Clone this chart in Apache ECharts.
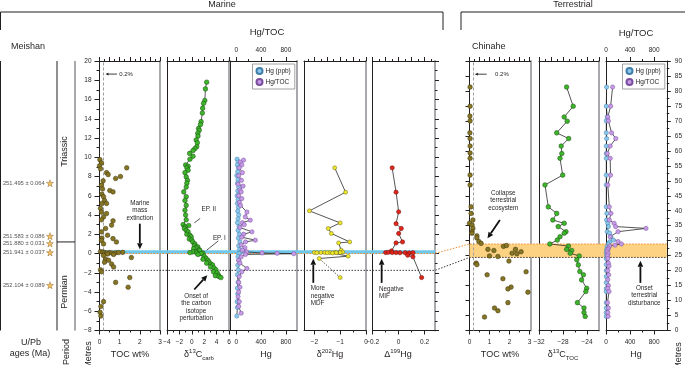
<!DOCTYPE html>
<html>
<head>
<meta charset="utf-8">
<script src="https://cdn.jsdelivr.net/npm/echarts@6/dist/echarts.min.js"></script>
<style>
html, body { margin: 0; padding: 0; background: #fff; }
#c { width: 685px; height: 365px; }
</style>
</head>
<body>
<div id="c"></div>
<script>
// ---- Meishan (marine) : [value, metres] ----
var meishanToc = [
    [0.02, 9.75], [0.1, 9.4], [0.0, 9.1], [0.05, 8.8], [1.35, 8.9], [0.35, 8.4], [0.43, 8.2], [1.04, 8.0],
    [0.8, 7.8], [0.18, 7.55], [0.1, 7.1], [0.15, 6.7], [0.51, 6.55], [0.67, 6.4], [0.12, 6.15], [0.2, 5.9],
    [0.25, 5.5], [0.12, 5.2], [0.35, 5.2], [0.05, 4.7], [0.1, 4.3], [0.35, 4.15], [0.2, 3.8], [0.1, 3.5],
    [0.67, 3.4], [0.6, 2.95], [0.3, 2.6], [0.1, 2.25], [0.4, 1.9], [0.12, 1.6], [0.67, 1.55], [0.1, 1.35],
    [0.84, 1.2], [0.2, 1.0], [0.05, 0.2], [0.15, 0.15], [0.25, 0.1], [0.35, 0.05], [0.5, 0.1], [0.62, 0.05],
    [0.8, 0.08], [0.95, 0.1], [1.15, 0.12], [0.4, -0.05], [0.7, -0.1], [0.2, -0.2], [1.58, -0.42], [0.3, -0.6],
    [0.45, -0.7], [0.25, -0.9], [0.6, -1.1], [0.7, -1.4], [0.05, -1.7], [0.1, -1.9], [1.5, -2.5], [0.8, -3.0],
    [1.42, -3.5], [0.2, -5.0], [0.07, -5.5], [0.03, -6.1], [0.07, -6.5]
];
var meishanC13 = [
    [2.4, 17.8], [2.2, 17.1], [2.1, 15.9], [1.9, 15.6], [1.75, 15.1], [1.7, 14.6], [1.5, 13.7], [1.4, 13.4],
    [1.1, 13.0], [1.2, 12.8], [0.97, 12.5], [1.0, 12.2], [0.7, 11.8], [0.9, 11.5], [0.8, 11.1], [0.5, 10.9],
    [0.2, 10.7], [-0.35, 10.4], [0.2, 10.1], [-0.3, 9.8], [-1.0, 9.2], [-0.6, 9.07], [-0.8, 8.9], [-0.6, 8.66],
    [-1.1, 8.4], [-0.9, 7.96], [-0.7, 7.6], [-0.8, 7.3], [-0.9, 6.9], [-1.3, 6.4], [-0.9, 5.9], [-1.1, 5.5],
    [-0.9, 5.0], [-1.1, 4.5], [-1.0, 4.0], [-0.9, 3.5], [-1.4, 3.0], [-0.5, 2.9], [-1.1, 2.76], [-1.2, 2.6],
    [-0.9, 2.4], [-0.6, 2.25], [-0.8, 2.0], [-0.3, 1.9], [-0.1, 1.73], [-0.4, 1.5], [0.0, 1.4], [0.15, 1.2],
    [0.5, 1.0], [0.4, 0.8], [0.95, 0.69], [0.7, 0.6], [0.3, 0.5], [1.2, 0.4], [1.3, 0.3], [0.6, 0.2],
    [0.15, 0.17], [-0.3, 0.1], [0.8, 0.05], [1.8, 0.05], [1.5, 0.0], [1.0, -0.1], [2.0, -0.3], [2.3, -0.5],
    [1.8, -0.6], [2.6, -0.7], [2.8, -0.9], [2.4, -1.0], [3.1, -1.1], [3.35, -1.2], [3.0, -1.4], [3.6, -1.5],
    [3.9, -1.7], [3.5, -1.9], [4.1, -2.0], [4.3, -2.25], [3.8, -2.3], [4.4, -2.4], [4.7, -2.5]
];
var meishanHg = [
    [15, 9.8], [30, 9.5], [20, 9.2], [35, 8.9], [25, 8.5], [10, 8.1], [30, 7.7], [20, 7.3], [40, 6.9],
    [25, 6.5], [15, 6.0], [30, 5.6], [20, 5.2], [35, 4.8], [25, 4.4], [40, 4.0], [30, 3.6], [20, 3.2],
    [45, 2.8], [30, 2.4], [50, 2.0], [35, 1.6], [60, 1.2], [40, 0.8], [55, 0.4], [70, 0.15], [45, 0.0],
    [30, -0.3], [40, -0.7], [25, -1.2], [35, -1.7], [20, -2.2], [30, -3.0], [20, -3.6], [25, -4.2],
    [15, -5.0], [20, -5.6], [10, -6.5]
];
var meishanHgToc = [
    [118, 9.7], [65, 9.5], [90, 9.2], [50, 8.9], [100, 8.4], [40, 8.1], [85, 7.6], [30, 7.2], [110, 7.0],
    [60, 6.6], [80, 6.4], [40, 6.0], [90, 5.7], [50, 5.3], [70, 5.0], [173, 4.3], [146, 3.8], [227, 3.46],
    [100, 3.2], [130, 3.0], [60, 2.7], [254, 2.25], [120, 2.0], [90, 1.7], [308, 1.38], [150, 1.2], [80, 0.9],
    [140, 0.6], [100, 0.35], [170, 0.17], [416, 0.05], [660, 0.02], [928, -0.02], [150, -0.1], [80, -0.35],
    [40, -0.7], [60, -1.0], [173, -1.56], [90, -1.9], [50, -2.4], [40, -3.0], [60, -3.5], [40, -4.0],
    [30, -4.5], [50, -5.0], [40, -5.5], [80, -6.2]
];
var meishanD202 = [
    [-1.21, 8.9], [-0.79, 6.37], [-2.19, 4.43], [-1.0, 3.18], [-1.46, 2.6], [-1.34, 2.08], [-0.63, 1.2],
    [-1.06, 1.1], [-0.96, 0.35], [-0.9, 0.15], [-1.2, 0.12], [-1.0, 0.1], [-1.4, 0.1], [-1.6, 0.1],
    [-1.15, 0.08], [-1.5, 0.08], [-1.75, 0.1], [-2.0, 0.1], [-1.9, 0.08], [-1.3, 0.05], [-0.69, -0.28],
    [-1.81, -0.52]
];
var meishanD202Low = [[-1.81, -0.52], [-1.0, -2.5]];
var meishanD199 = [
    [-0.05, 8.9], [-0.02, 6.37], [0.0, 4.33], [-0.02, 3.1], [0.02, 2.6], [0.0, 2.08], [0.03, 1.2],
    [-0.02, 1.1], [-0.055, 0.27], [-0.1, 0.1], [-0.08, 0.12], [-0.05, 0.1], [-0.02, 0.1], [0.01, 0.08],
    [0.05, 0.08], [0.08, 0.06], [0.11, 0.08], [0.07, -0.18], [0.11, -0.35], [0.177, -2.5]
];

// ---- Chinahe (terrestrial) : [value, metres] ----
var chinaheToc = [
    [0.03, 81.3], [0.03, 74.9], [0.02, 71.6], [0.03, 70], [0.02, 66], [0.03, 64.1], [0.03, 61.6], [0.03, 59.3],
    [0.03, 57.5], [0.03, 51.9], [0.03, 48.6], [0.08, 41.3], [0.08, 39.1], [0.17, 36.9], [0.0, 35.8], [0.13, 35.2],
    [0.17, 34.1], [0.13, 33.0], [0.12, 32.5], [0.37, 31.6], [0.37, 30.9], [0.47, 29.7], [0.58, 29.1], [1.7, 28.1],
    [1.85, 28.4], [0.92, 27.1], [1.22, 26.7], [1.0, 24.9], [1.42, 24.7], [2.13, 25.8], [2.3, 27.1], [2.37, 25.6],
    [2.58, 26.3], [1.97, 23.2], [0.33, 22.5], [0.37, 22.0], [2.83, 19.6], [0.88, 18.6], [1.67, 17.3],
    [2.92, 12.8], [2.08, 14.5], [1.92, 13.9], [1.92, 9.3], [1.25, 7.5], [1.42, 6.6], [0.75, 4.5]
];
var chinaheC13 = [
    [-27.4, 81.3], [-26.3, 74.9], [-27.8, 71.3], [-27.3, 69.9], [-29.05, 66], [-27.05, 64.1], [-28.3, 61.6],
    [-28.2, 59.1], [-28.5, 57.5], [-28.05, 51.9], [-31, 48.6], [-30.45, 41.3], [-29.05, 39.1], [-29.7, 36.9],
    [-27.8, 35.8], [-28.8, 34.7], [-27.5, 33], [-27.8, 32.5], [-28.5, 31.3], [-28.95, 30.2], [-30.2, 28.9],
    [-27.1, 28.2], [-27.4, 27.1], [-26.55, 26.7], [-26.8, 25.8], [-25.3, 24.9], [-25.7, 23.6], [-25.45, 21.9],
    [-25.2, 19.7], [-24.6, 18.6], [-24.9, 16.9], [-24.05, 14.1], [-24.2, 13], [-25.6, 9.3], [-24.5, 7.5],
    [-24.5, 6], [-24.3, 4.7]
];
var chinaheHg = [
    [10, 81.3], [5, 74.9], [20, 71.3], [5, 70], [5, 66], [10, 64.1], [5, 61.6], [5, 59.1], [5, 57.5],
    [5, 51.9], [5, 48.6], [5, 41.3], [15, 39.1], [10, 36.9], [30, 35.8], [40, 34.7], [20, 33], [60, 32.5],
    [80, 31.3], [120, 30.2], [60, 29.6], [40, 28.9], [20, 28], [10, 27], [5, 26], [10, 25], [5, 24],
    [5, 22], [5, 20], [5, 18], [5, 16], [5, 14], [5, 13], [5, 9.3], [5, 7.5], [5, 6], [5, 4.7]
];
var chinaheHgToc = [
    [110, 81.3], [77, 74.9], [30, 71.3], [40, 70], [93, 66], [163, 64.1], [70, 61.6], [20, 59.1], [70, 57.5],
    [75, 51.9], [30, 48.6], [55, 41.3], [82, 39.1], [55, 36.9], [135, 35.8], [160, 34.7], [665, 34.1],
    [200, 33], [70, 31.3], [200, 29.7], [256, 28.9], [150, 28.5], [60, 28.2], [40, 27.5], [30, 27], [20, 26.3],
    [35, 25.6], [25, 24.9], [30, 24], [40, 22.5], [50, 21.5], [30, 20], [45, 18.6], [30, 17], [40, 15],
    [30, 14], [50, 13], [25, 9.3], [40, 7.5], [30, 6], [35, 4.7]
];

// ---- U/Pb ages (Meishan metres) ----
var ageLabels = ['251.495 \u00b1 0.064', '251.583 \u00b1 0.086', '251.880 \u00b1 0.031', '251.941 \u00b1 0.037', '252.104 \u00b1 0.089'];
var ageDepths = [7.3, 1.8, 1.04, 0.1, -3.3];

// ---- panel layout ----
var FONT = '"Liberation Sans", Arial, sans-serif';
var INK = '#231f20';
var TOP = 61, HEIGHT = 269.5;

var panels = [
    { l: 99.5, r: 160, min: 0, max: 3, labels: [0, 1, 2, 3], bMinor: [0.5, 1.5, 2.5],
      tMajor: [0, 0.5, 1, 1.5, 2, 2.5, 3], tMinor: [0.25, 0.75, 1.25, 1.75, 2.25, 2.75] },
    { l: 167, r: 229, min: -4, max: 6, labels: [-4, -2, 0, 2, 4, 6], bMinor: [-3, -1, 1, 3, 5],
      tMajor: [-4, -2, 0, 2, 4, 6], tMinor: [-3, -1, 1, 3, 5] },
    { l: 230, r: 297, min: -100, max: 980, labels: [0, 400, 800], bMinor: [200, 600],
      tMajor: [0, 400, 800], tMinor: [200, 600], top: true },
    { l: 304, r: 366, min: -2.4, max: 0, labels: [-2, -1, 0], bMinor: [-1.5, -0.5],
      tMajor: [-2, -1.5, -1, -0.5, 0], tMinor: [-2.25, -1.75, -1.25, -0.75, -0.25] },
    { l: 372.7, r: 435, min: -0.2, max: 0.28, labels: [-0.2, 0, 0.2], bMinor: [-0.1, 0.1],
      tMajor: [-0.2, -0.1, 0, 0.1, 0.2], tMinor: [-0.15, -0.05, 0.05, 0.15, 0.25] },
    { l: 469.5, r: 530.5, min: 0, max: 3.05, labels: [0, 1, 2, 3], bMinor: [0.5, 1.5, 2.5],
      tMajor: [0, 0.5, 1, 1.5, 2, 2.5, 3], tMinor: [0.25, 0.75, 1.25, 1.75, 2.25, 2.75] },
    { l: 539, r: 599, min: -32, max: -22, labels: [-32, -28, -24], bMinor: [-30, -26],
      tMajor: [-32, -30, -28, -26, -24, -22], tMinor: [-31, -29, -27, -25, -23] },
    { l: 606, r: 668, min: 0, max: 1010, labels: [0, 400, 800], bMinor: [200, 600],
      tMajor: [0, 400, 800], tMinor: [200, 600], top: true }
];

function fmt(v) {
    return v < 0 ? '\u2212' + String(-v) : String(v);
}

var grids = [], xAxes = [], yAxes = [];
var lineBlack = { onZero: false, lineStyle: { color: INK, width: 1 } };

panels.forEach(function (p, i) {
    var marine = i < 5;
    grids.push({ left: p.l, top: TOP, width: p.r - p.l, height: HEIGHT, containLabel: false });
    var base = { type: 'value', gridIndex: i, min: p.min, max: p.max, splitLine: { show: false }, silent: true };

    xAxes.push(Object.assign({}, base, {
        position: 'bottom', axisLine: lineBlack,
        axisTick: { length: 4, customValues: p.labels, lineStyle: { color: INK } },
        axisLabel: { customValues: p.labels, fontSize: 6.5, fontFamily: FONT, color: INK, margin: 8, formatter: fmt }
    }));
    xAxes.push(Object.assign({}, base, {
        position: 'bottom', axisLine: { show: false, onZero: false },
        axisTick: { length: 2, customValues: p.bMinor, lineStyle: { color: INK } },
        axisLabel: { show: false }
    }));
    xAxes.push(Object.assign({}, base, {
        position: 'top', axisLine: lineBlack,
        axisTick: { length: 4, customValues: p.tMajor, lineStyle: { color: INK } },
        axisLabel: p.top
            ? { customValues: p.labels, fontSize: 6.5, fontFamily: FONT, color: INK, margin: 7, formatter: fmt }
            : { show: false }
    }));
    xAxes.push(Object.assign({}, base, {
        position: 'top', axisLine: { show: false, onZero: false },
        axisTick: { length: 2, customValues: p.tMinor, lineStyle: { color: INK } },
        axisLabel: { show: false }
    }));

    var ybase = {
        type: 'value', gridIndex: i, min: marine ? -8 : 0, max: marine ? 20 : 90,
        splitLine: { show: false }, silent: true
    };
    var left = Object.assign({}, ybase, {
        position: 'left', axisLine: lineBlack, axisTick: { show: false }, axisLabel: { show: false }
    });
    var right = Object.assign({}, ybase, {
        position: 'right', axisLine: { onZero: false, lineStyle: { color: '#a7a9ac', width: 2 } },
        axisTick: { show: false }, axisLabel: { show: false }
    });
    if (i === 0) {
        left.interval = 2;
        left.axisTick = { show: true, length: 5, lineStyle: { color: INK } };
        left.minorTick = { show: true, splitNumber: 2, length: 3, lineStyle: { color: INK } };
        left.axisLabel = { show: true, fontSize: 6.5, fontFamily: FONT, color: INK, margin: 8, formatter: fmt };
    }
    if (i === 4) {
        right.interval = 2;
        right.axisTick = { show: true, length: 4, lineStyle: { color: INK } };
        right.minorTick = { show: true, splitNumber: 2, length: 2.5, lineStyle: { color: INK } };
    }
    if (i === 5) {
        left.interval = 5;
        left.axisTick = { show: true, length: 4, lineStyle: { color: INK } };
    }
    if (i === 7) {
        right.interval = 5;
        right.axisLine = { onZero: false, lineStyle: { color: INK, width: 1 } };
        right.axisTick = { show: true, length: 4, lineStyle: { color: INK } };
        right.minorTick = { show: true, splitNumber: 2, length: 2.5, lineStyle: { color: INK } };
        right.axisLabel = { show: true, fontSize: 6.5, fontFamily: FONT, color: INK, margin: 8 };
    }
    yAxes.push(left, right);
});

// hidden grid for the U/Pb age column, sharing the Meishan depth scale
grids.push({ left: 0, top: TOP, width: 57, height: HEIGHT });
xAxes.push({ type: 'value', gridIndex: 8, min: 0, max: 1, show: false });
yAxes.push({ type: 'value', gridIndex: 8, min: -8, max: 20, show: false });

function dots(name, data, p, fill, edge, size, joined) {
    return {
        type: joined ? 'line' : 'scatter',
        name: name,
        data: data,
        xAxisIndex: p * 4,
        yAxisIndex: p * 2,
        symbol: 'circle',
        symbolSize: size,
        showSymbol: true,
        showAllSymbol: true,
        itemStyle: { color: fill, borderColor: edge, borderWidth: 0.5, opacity: 1 },
        lineStyle: { color: '#2b2b2b', width: 0.8 },
        emphasis: { disabled: true },
        z: 5,
        animation: false
    };
}

var olive = ['#857524', '#3d350c'];
var green = ['#3db52a', '#17470f'];
var blue = ['#8cc8ec', '#3f7ea8'];
var purple = ['#c59ae6', '#7a4f9e'];
var yellow = ['#efe52a', '#6f6810'];
var red = ['#e0261b', '#6d0f0a'];

var tocMark = {
    silent: true, symbol: ['none', 'none'], label: { show: false },
    lineStyle: { color: '#9d9fa2', type: [3, 2], width: 1 },
    data: [{ xAxis: 0.2 }]
};

var s = [];
var mToc = dots('TOC', meishanToc, 0, olive[0], olive[1], 4.6, false);
mToc.markLine = tocMark;
s.push(mToc);
s.push(dots('d13C', meishanC13, 1, green[0], green[1], 4.6, true));
s.push(dots('Hg (ppb)', meishanHg, 2, blue[0], blue[1], 4.3, true));
s.push(dots('Hg/TOC', meishanHgToc, 2, purple[0], purple[1], 4.3, true));
var low = dots('d202low', meishanD202Low, 3, yellow[0], yellow[1], 4, true);
low.lineStyle = { color: '#2b2b2b', width: 0.8, type: [1.5, 1.5] };
low.showSymbol = false;
low.symbol = 'none';
s.push(low);
s.push(dots('d202', meishanD202, 3, yellow[0], yellow[1], 4, true));
s.push(dots('d202pt', meishanD202Low.slice(1), 3, yellow[0], yellow[1], 4, false));
s.push(dots('d199', meishanD199, 4, red[0], red[1], 4.3, true));
var tToc = dots('TOC t', chinaheToc, 5, olive[0], olive[1], 4.6, false);
tToc.markLine = tocMark;
s.push(tToc);
s.push(dots('d13C t', chinaheC13, 6, green[0], green[1], 4.6, true));
s.push(dots('Hg (ppb)', chinaheHg, 7, blue[0], blue[1], 4.3, true));
s.push(dots('Hg/TOC', chinaheHgToc, 7, purple[0], purple[1], 4.3, true));
s.push({
    type: 'scatter',
    name: 'ages',
    xAxisIndex: 32,
    yAxisIndex: 16,
    data: ageDepths.map(function (d) { return [0.877, d]; }),
    symbol: 'path://M50,0 L61,35 L98,35 L68,57 L79,91 L50,70 L21,91 L32,57 L2,35 L39,35 Z',
    symbolSize: 7,
    itemStyle: { color: '#f4b23c', borderColor: '#7a5212', borderWidth: 0.5 },
    label: {
        show: true, position: 'left', distance: 1.5, fontSize: 5.8, fontFamily: FONT, color: INK,
        formatter: function (p) { return ageLabels[p.dataIndex]; }
    },
    emphasis: { disabled: true },
    animation: false
});

var legendBase = {
    data: ['Hg (ppb)', 'Hg/TOC'],
    orient: 'vertical',
    top: 64,
    icon: 'circle',
    itemWidth: 6,
    itemHeight: 6,
    itemGap: 3,
    padding: [3, 4, 3, 3],
    borderColor: '#8a8a8a',
    borderWidth: 0.8,
    backgroundColor: '#fff',
    selectedMode: false,
    textStyle: { fontSize: 6.5, fontFamily: FONT, color: INK, padding: [0, 0, 0, -2] },
    z: 30
};

var chart = echarts.init(document.getElementById('c'), null, { renderer: 'canvas' });
chart.setOption({
    animation: false,
    backgroundColor: '#fff',
    grid: grids,
    xAxis: xAxes,
    yAxis: yAxes,
    legend: [
        Object.assign({}, legendBase, { left: 252.5 }),
        Object.assign({}, legendBase, { left: 622.5 })
    ],
    series: s
});

// ---- overlays positioned through the chart's own scales ----
function P(p, x, y) {
    return chart.convertToPixel({ xAxisIndex: p * 4, yAxisIndex: p * 2 }, [x, y]);
}
var g = [];
function txt(x, y, text, size, opt) {
    g.push({
        type: 'text', x: x, y: y, z: 40, rotation: (opt && opt.rot) || 0,
        style: Object.assign({
            text: text, fill: INK, fontSize: size, fontFamily: FONT,
            align: 'center', verticalAlign: 'middle'
        }, (opt && opt.style) || {})
    });
}
function seg(pts, stroke, w, dash, z) {
    g.push({
        type: 'polyline', z: z || 3, silent: true,
        shape: { points: pts },
        style: { stroke: stroke, lineWidth: w, lineDash: dash || null, fill: null }
    });
}
function arrow(a, b, w, hl, hw) {
    var dx = b[0] - a[0], dy = b[1] - a[1], L = Math.sqrt(dx * dx + dy * dy);
    var ux = dx / L, uy = dy / L;
    var bx = b[0] - ux * hl, by = b[1] - uy * hl;
    seg([a, [bx, by]], '#111', w, null, 40);
    g.push({
        type: 'polygon', z: 40, silent: true,
        shape: { points: [b, [bx - uy * hw, by + ux * hw], [bx + uy * hw, by - ux * hw]] },
        style: { fill: '#111' }
    });
}

var mL = P(0, 0, 0)[0], mR = P(4, panels[4].max, 0)[0];
var tL = P(5, 0, 0)[0], tR = P(7, panels[7].max, 0)[0];
function mY(m) { return P(0, 0, m)[1]; }
function tY(m) { return P(5, 0, m)[1]; }

// boundary bands and correlation lines
g.push({ type: 'rect', z: 1, silent: true,
    shape: { x: mL, y: mY(0.35), width: mR - mL, height: mY(-0.02) - mY(0.35) },
    style: { fill: '#6fc8ec' } });
g.push({ type: 'rect', z: 1, silent: true,
    shape: { x: tL, y: tY(28.9), width: tR - tL, height: tY(24.4) - tY(28.9) },
    style: { fill: '#fdd283' } });
seg([[mL, mY(0)], [mR, mY(0)], [tL, tY(28.9)], [tR, tY(28.9)]], '#f08a2e', 1, [1.5, 1.5]);
seg([[mL, mY(-1.75)], [mR, mY(-1.75)], [tL, tY(24.4)], [tR, tY(24.4)]], '#3a3a3a', 1, [1.5, 1.5]);

// 0.2% markers
arrow(P(0, 0.87, 18.64), P(0, 0.3, 18.64), 0.8, 3, 1.4);
txt(P(0, 0.98, 18.64)[0], P(0, 0.98, 18.64)[1], '0.2%', 6, { style: { align: 'left' } });
arrow(P(5, 0.86, 85.6), P(5, 0.27, 85.6), 0.8, 3, 1.4);
txt(P(5, 1.28, 85.6)[0], P(5, 1.28, 85.6)[1], '0.2%', 6, { style: { align: 'left' } });

// annotations
var A = 6.3, LH = 7.5;
var q = P(0, 2.0, 4.45);
txt(q[0], q[1], 'Marine\nmass\nextinction', A, { style: { lineHeight: LH } });
arrow(P(0, 2.0, 3.1), P(0, 2.0, 0.45), 1.8, 6, 2.8);

q = P(1, 2.74, 4.57);
txt(q[0], q[1], 'EP. II', A);
seg([P(1, 1.35, 3.64), P(1, 0.4, 3.18)], '#111', 0.7, null, 40);
q = P(1, 4.44, 1.62);
txt(q[0], q[1], 'EP. I', A);
seg([P(1, 4.27, 1.31), P(1, 2.4, 0.34)], '#111', 0.7, null, 40);
q = P(1, 0.71, -5.6);
txt(q[0], q[1], 'Onset of\nthe carbon\nisotope\nperturbation', A, { style: { lineHeight: LH } });
arrow(P(1, 0.4, -3.74), P(1, 2.5, -2.26), 1.8, 6, 2.8);

q = P(3, -2.14, -4.4);
txt(q[0], q[1], 'More\nnegative\nMDF', A, { style: { align: 'left', lineHeight: 7.2 } });
arrow(P(3, -2.04, -3.05), P(3, -2.04, -0.55), 1.8, 6, 2.8);

q = P(4, -0.152, -4.04);
txt(q[0], q[1], 'Negative\nMIF', A, { style: { align: 'left', lineHeight: 7.2 } });
arrow(P(4, -0.131, -3.05), P(4, -0.131, -0.55), 1.8, 6, 2.8);

q = P(5, 1.69, 43.4);
txt(q[0], q[1], 'Collapse\nterrestrial\necosystem', A, { style: { lineHeight: 7.3 } });
arrow(P(5, 1.52, 36.9), P(5, 0.9, 30.8), 1.8, 6, 2.8);

q = P(7, 637, 11.7);
txt(q[0], q[1], 'Onset\nterrestrial\ndisturbance', A, { style: { lineHeight: LH } });
arrow(P(7, 572, 15.9), P(7, 572, 23.3), 1.8, 6, 2.8);

// left columns: U/Pb ages and period
var yTop = mY(20), yBot = mY(-8);
seg([[0.5, yTop], [0.5, yBot]], INK, 1, null, 3);
seg([[57, yTop], [57, yBot]], INK, 1, null, 3);
seg([[75, yTop], [75, yBot]], '#a7a9ac', 2, null, 3);
seg([[57, mY(1.2)], [75, mY(1.2)]], INK, 1, null, 3);
txt(65, mY(10.6), 'Triassic', 9, { rot: Math.PI / 2 });
txt(65, mY(-4.0), 'Permian', 9, { rot: Math.PI / 2 });

// headers
seg([[0.5, 30], [0.5, 12], [443, 12], [443, 30]], INK, 1, null, 3);
seg([[461, 30], [461, 12], [690, 12]], INK, 1, null, 3);
txt(222, 4.5, 'Marine', 9);
txt(573, 4.5, 'Terrestrial', 9);
txt(267, 32, 'Hg/TOC', 9.5);
txt(636, 33, 'Hg/TOC', 9.5);
txt(11, 47, 'Meishan', 9, { style: { align: 'left' } });
txt(472, 47, 'Chinahe', 9, { style: { align: 'left' } });

// bottom titles
var rich = {
    n: { fontSize: 9, fontFamily: FONT, fill: INK, lineHeight: 13 },
    sup: { fontSize: 6, fontFamily: FONT, fill: INK, verticalAlign: 'top' },
    sub: { fontSize: 6, fontFamily: FONT, fill: INK, verticalAlign: 'bottom' }
};
function rtxt(x, y, text) {
    g.push({ type: 'text', x: x, y: y, z: 40,
        style: { text: text, rich: rich, align: 'center', verticalAlign: 'middle' } });
}
txt(31, 342.5, 'U/Pb', 9);
txt(30, 354, 'ages (Ma)', 9);
txt(66.5, 352, 'Period', 9, { rot: Math.PI / 2 });
txt(89, 355, 'Metres', 9, { rot: Math.PI / 2 });
txt(678.5, 356, 'Metres', 9, { rot: Math.PI / 2 });
txt(130, 355, 'TOC wt%', 9);
rtxt(199, 355, '{n|\u03b4}{sup|13}{n|C}{sub|carb}');
txt(266, 355, 'Hg', 9);
rtxt(330, 355, '{n|\u03b4}{sup|202}{n|Hg}');
rtxt(398, 355, '{n|\u0394}{sup|199}{n|Hg}');
txt(500, 355, 'TOC wt%', 9);
rtxt(563, 355, '{n|\u03b4}{sup|13}{n|C}{sub|TOC}');
txt(636, 355, 'Hg', 9);

chart.setOption({ graphic: { elements: g } });
</script>
</body>
</html>
